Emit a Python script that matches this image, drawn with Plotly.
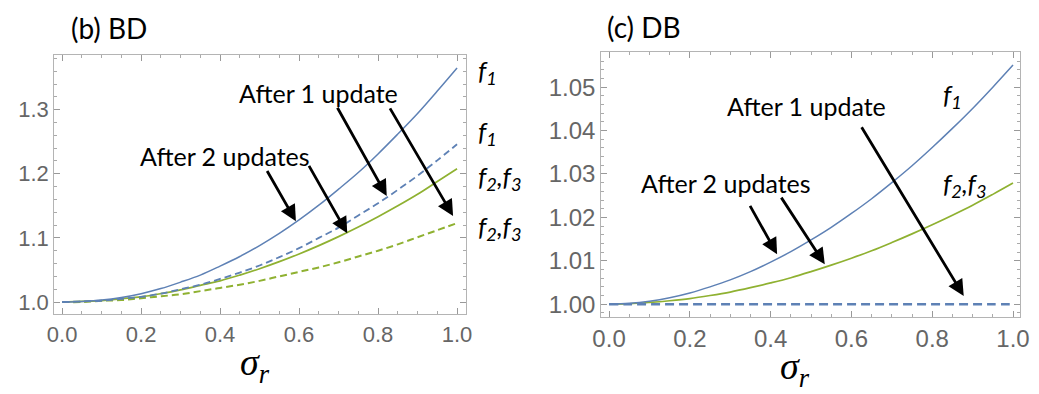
import plotly.graph_objects as go

# sigma_r grid shared by every curve
sigma_r = [0.00, 0.05, 0.10, 0.15, 0.20, 0.25, 0.30, 0.35, 0.40, 0.45, 0.50,
           0.55, 0.60, 0.65, 0.70, 0.75, 0.80, 0.85, 0.90, 0.95, 1.00]

# (b) BD
bd_f1_two = [1.000, 1.001, 1.003, 1.007, 1.013, 1.021, 1.031, 1.042, 1.056, 1.071, 1.088,
             1.107, 1.128, 1.151, 1.176, 1.202, 1.231, 1.262, 1.294, 1.329, 1.365]
bd_f1_one = [1.000, 1.001, 1.002, 1.005, 1.008, 1.013, 1.020, 1.027, 1.036, 1.046, 1.057,
             1.070, 1.084, 1.100, 1.116, 1.135, 1.154, 1.175, 1.197, 1.221, 1.246]
bd_f23_two = [1.000, 1.001, 1.002, 1.005, 1.008, 1.013, 1.019, 1.026, 1.033, 1.042, 1.052,
              1.063, 1.075, 1.088, 1.102, 1.117, 1.133, 1.150, 1.168, 1.188, 1.208]
bd_f23_one = [1.000, 1.000, 1.002, 1.003, 1.006, 1.009, 1.012, 1.017, 1.022, 1.027, 1.033,
              1.040, 1.047, 1.054, 1.062, 1.071, 1.080, 1.090, 1.101, 1.112, 1.123]

# (c) DB
db_f1_two = [1.0000, 1.0002, 1.0007, 1.0015, 1.0026, 1.0040, 1.0056, 1.0075, 1.0097, 1.0121, 1.0148,
             1.0177, 1.0209, 1.0243, 1.0280, 1.0319, 1.0361, 1.0405, 1.0451, 1.0500, 1.0551]
db_f23_two = [1.0000, 1.0001, 1.0004, 1.0008, 1.0013, 1.0020, 1.0028, 1.0038, 1.0049, 1.0061, 1.0075,
              1.0090, 1.0106, 1.0123, 1.0142, 1.0162, 1.0183, 1.0205, 1.0228, 1.0253, 1.0279]
db_one = [1.0000] * len(sigma_r)

BLUE = "#5E81B5"
GREEN = "#8FB131"
FRAME = "#b4b4b4"
TICKTXT = "#666666"
TXT_FONT = "Lato"

fig = go.Figure()


def curve(y, color, dash, width, xa, ya):
    fig.add_trace(go.Scatter(
        x=sigma_r, y=y, mode="lines", xaxis=xa, yaxis=ya,
        line=dict(color=color, width=width, dash=dash, shape="spline"),
        showlegend=False, hoverinfo="skip"))


curve(bd_f23_one, GREEN, "7px,4px", 2.0, "x", "y")
curve(bd_f23_two, GREEN, "solid", 1.7, "x", "y")
curve(bd_f1_one, BLUE, "7px,4px", 1.8, "x", "y")
curve(bd_f1_two, BLUE, "solid", 1.5, "x", "y")

curve(db_f23_two, GREEN, "solid", 1.7, "x2", "y2")
curve(db_f1_two, BLUE, "solid", 1.5, "x2", "y2")
curve(db_one, BLUE, "9px,5px", 2.4, "x2", "y2")


def frame_axis(domain, rng, dtick, minor_dt, anchor, fsize):
    return dict(
        domain=domain, range=rng, anchor=anchor,
        showline=True, linecolor=FRAME, linewidth=1, mirror="allticks",
        ticks="inside", ticklen=6, tickcolor="#999999", tickwidth=1,
        dtick=dtick, tick0=0, showgrid=False, zeroline=False,
        tickfont=dict(family="Liberation Sans", size=fsize, color=TICKTXT),
        minor=dict(dtick=minor_dt, ticks="inside", ticklen=3,
                   tickcolor="#aaaaaa", showgrid=False),
    )


fig.update_layout(
    width=1039, height=394,
    margin=dict(l=0, r=0, t=0, b=0),
    paper_bgcolor="white", plot_bgcolor="white",
    xaxis=frame_axis([0.0443, 0.4475], [-0.0199, 1.0224], 0.2, 0.05, "y", 22),
    yaxis=frame_axis([0.2005, 0.8604], [0.981, 1.3855], 0.1, 0.02, "x", 22),
    xaxis2=frame_axis([0.580, 0.9904], [-0.0195, 1.0178], 0.2, 0.05, "y2", 24),
    yaxis2=frame_axis([0.1937, 0.8688], [0.99708, 1.0582], 0.01, 0.002, "x2", 24),
)
fig.layout.xaxis.tickformat = ".1f"
fig.layout.yaxis.tickformat = ".1f"
fig.layout.xaxis2.tickformat = ".1f"
fig.layout.yaxis2.tickformat = ".2f"

W, H = 1039, 394


def text(px, py, s, size, anchor="center", family=TXT_FONT, color="black"):
    fig.add_annotation(x=px / W, y=1 - py / H, xref="paper", yref="paper",
                       text=s, showarrow=False, xanchor=anchor, yanchor="middle",
                       font=dict(family=family, size=size, color=color))


def arrow(xa, ya, tail, head):
    fig.add_annotation(x=head[0], y=head[1], ax=tail[0], ay=tail[1],
                       xref=xa, yref=ya, axref=xa, ayref=ya,
                       text="", showarrow=True, arrowhead=2, arrowsize=1.15,
                       arrowwidth=2.8, arrowcolor="black", standoff=0)


# titles
text(61, 28, "(b) BD", 28, anchor="left")
text(607, 27, "(c) DB", 28, anchor="left")

# panel (b) annotations
text(315, 93, "After 1 update", 25)
text(220, 156, "After 2 updates", 25)
arrow("x", "y", (0.517, 1.2068), (0.592, 1.126))
arrow("x", "y", (0.623, 1.2146), (0.722, 1.1073))
arrow("x", "y", (0.695, 1.3053), (0.822, 1.1653))
arrow("x", "y", (0.828, 1.3044), (0.990, 1.1342))

fl = "<i>f</i><sub><i>1</i></sub>"
f23 = "<i>f</i><sub><i>2</i></sub><i>,</i><i>f</i><sub><i>3</i></sub>"
text(475, 72, fl, 26, anchor="left")
text(475, 133, fl, 26, anchor="left")
text(475, 178, f23, 26, anchor="left")
text(475, 228, f23, 26, anchor="left")

# panel (c) annotations
text(812, 106, "After 1 update", 25)
text(730, 183, "After 2 updates", 25)
arrow("x2", "y2", (0.347, 1.0230), (0.416, 1.0115))
arrow("x2", "y2", (0.424, 1.0249), (0.534, 1.0092))
arrow("x2", "y2", (0.623, 1.0411), (0.878, 1.0019))
text(948, 96, fl, 26, anchor="left")
text(948, 185, f23, 26, anchor="left")

# axis labels
sig = "<i>σ</i><sub><i>r</i></sub>"
text(250, 366, sig, 38, family="Liberation Serif")
text(800, 370, sig, 38, family="Liberation Serif")

fig.write_html("out.html")
